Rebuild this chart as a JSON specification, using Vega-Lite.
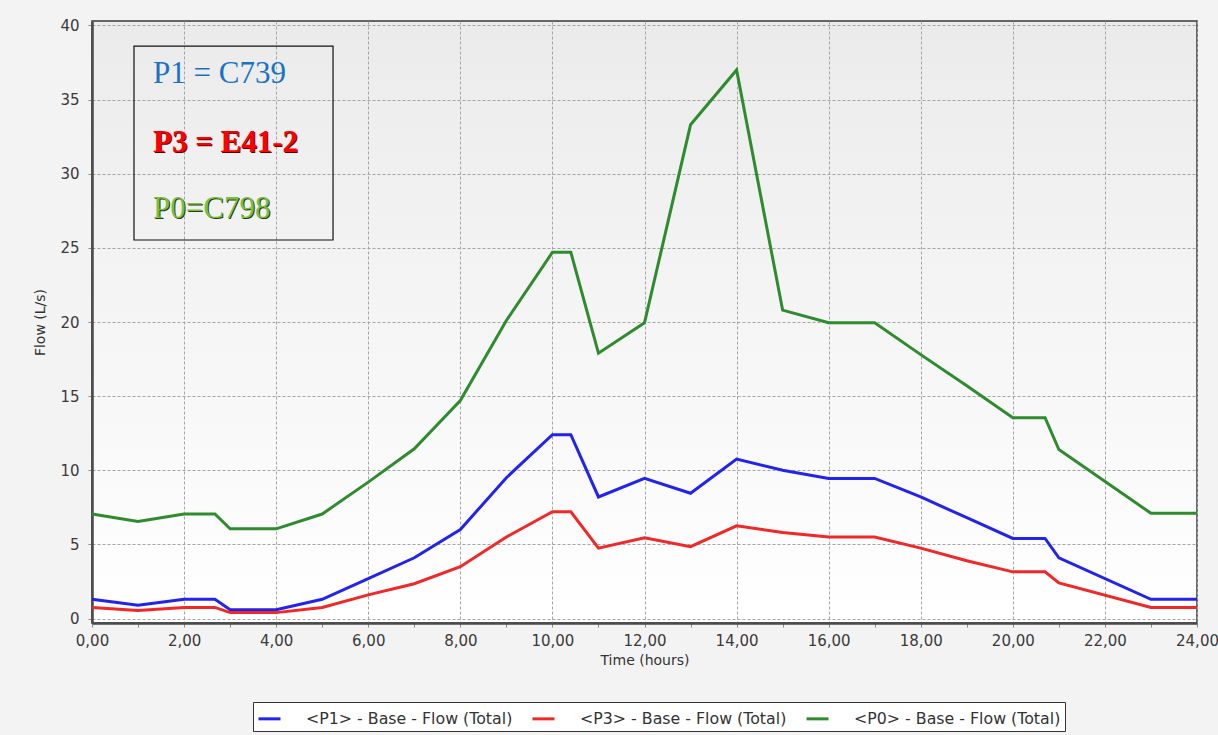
{
  "$schema": "https://vega.github.io/schema/vega-lite/v6.json",
  "width": 1105,
  "height": 602,
  "autosize": "none",
  "padding": {"left": 92, "top": 21, "right": 21, "bottom": 112},
  "background": "#f3f3f3",
  "config": {
    "view": {
      "fill": {"gradient": "linear", "x1": 0, "y1": 0, "x2": 0, "y2": 1,
        "stops": [{"offset": 0, "color": "#ebebeb"}, {"offset": 1, "color": "#ffffff"}]},
      "stroke": "#3a3a3a",
      "strokeWidth": 1.5
    },
    "font": "DejaVu Sans",
    "axis": {
      "domainColor": "#4a4a4a",
      "domainWidth": 2.5,
      "tickColor": "#8a8a8a",
      "tickSize": 4,
      "labelColor": "#3a3a3a",
      "labelFontSize": 15,
      "labelPadding": 6,
      "titleColor": "#333333",
      "titleFontSize": 14,
      "titleFontWeight": "normal",
      "gridColor": "#a5a5a5",
      "gridDash": [3, 2],
      "gridWidth": 1
    }
  },
  "datasets": {
    "flows": [
      {"t": 0, "flow": 1.3, "s": "P1"}, {"t": 1, "flow": 0.9, "s": "P1"}, {"t": 2, "flow": 1.3, "s": "P1"}, {"t": 2.67, "flow": 1.3, "s": "P1"},
      {"t": 3, "flow": 0.6, "s": "P1"}, {"t": 4, "flow": 0.6, "s": "P1"}, {"t": 5, "flow": 1.3, "s": "P1"}, {"t": 6, "flow": 2.7, "s": "P1"},
      {"t": 7, "flow": 4.1, "s": "P1"}, {"t": 8, "flow": 6.0, "s": "P1"}, {"t": 9, "flow": 9.5, "s": "P1"}, {"t": 10, "flow": 12.4, "s": "P1"},
      {"t": 10.4, "flow": 12.4, "s": "P1"}, {"t": 11, "flow": 8.2, "s": "P1"}, {"t": 12, "flow": 9.45, "s": "P1"}, {"t": 13, "flow": 8.45, "s": "P1"},
      {"t": 14, "flow": 10.75, "s": "P1"}, {"t": 15, "flow": 10.0, "s": "P1"}, {"t": 16, "flow": 9.45, "s": "P1"}, {"t": 17, "flow": 9.45, "s": "P1"},
      {"t": 18, "flow": 8.2, "s": "P1"}, {"t": 19, "flow": 6.8, "s": "P1"}, {"t": 20, "flow": 5.4, "s": "P1"}, {"t": 20.7, "flow": 5.4, "s": "P1"},
      {"t": 21, "flow": 4.1, "s": "P1"}, {"t": 23, "flow": 1.3, "s": "P1"}, {"t": 24, "flow": 1.3, "s": "P1"},
      {"t": 0, "flow": 0.75, "s": "P3"}, {"t": 1, "flow": 0.55, "s": "P3"}, {"t": 2, "flow": 0.75, "s": "P3"}, {"t": 2.67, "flow": 0.75, "s": "P3"},
      {"t": 3, "flow": 0.4, "s": "P3"}, {"t": 4, "flow": 0.4, "s": "P3"}, {"t": 5, "flow": 0.75, "s": "P3"}, {"t": 6, "flow": 1.6, "s": "P3"},
      {"t": 7, "flow": 2.35, "s": "P3"}, {"t": 8, "flow": 3.5, "s": "P3"}, {"t": 9, "flow": 5.5, "s": "P3"}, {"t": 10, "flow": 7.2, "s": "P3"},
      {"t": 10.4, "flow": 7.2, "s": "P3"}, {"t": 11, "flow": 4.75, "s": "P3"}, {"t": 12, "flow": 5.45, "s": "P3"}, {"t": 13, "flow": 4.85, "s": "P3"},
      {"t": 14, "flow": 6.25, "s": "P3"}, {"t": 15, "flow": 5.8, "s": "P3"}, {"t": 16, "flow": 5.5, "s": "P3"}, {"t": 17, "flow": 5.5, "s": "P3"},
      {"t": 18, "flow": 4.75, "s": "P3"}, {"t": 19, "flow": 3.9, "s": "P3"}, {"t": 20, "flow": 3.15, "s": "P3"}, {"t": 20.7, "flow": 3.15, "s": "P3"},
      {"t": 21, "flow": 2.4, "s": "P3"}, {"t": 23, "flow": 0.75, "s": "P3"}, {"t": 24, "flow": 0.75, "s": "P3"},
      {"t": 0, "flow": 7.05, "s": "P0"}, {"t": 1, "flow": 6.55, "s": "P0"}, {"t": 2, "flow": 7.05, "s": "P0"}, {"t": 2.67, "flow": 7.05, "s": "P0"},
      {"t": 3, "flow": 6.05, "s": "P0"}, {"t": 4, "flow": 6.05, "s": "P0"}, {"t": 5, "flow": 7.05, "s": "P0"}, {"t": 6, "flow": 9.2, "s": "P0"},
      {"t": 7, "flow": 11.45, "s": "P0"}, {"t": 8, "flow": 14.7, "s": "P0"}, {"t": 9, "flow": 20.1, "s": "P0"}, {"t": 10, "flow": 24.7, "s": "P0"},
      {"t": 10.4, "flow": 24.7, "s": "P0"}, {"t": 11, "flow": 17.9, "s": "P0"}, {"t": 12, "flow": 19.95, "s": "P0"}, {"t": 13, "flow": 33.3, "s": "P0"},
      {"t": 14, "flow": 37.0, "s": "P0"}, {"t": 15, "flow": 20.8, "s": "P0"}, {"t": 16, "flow": 19.95, "s": "P0"}, {"t": 17, "flow": 19.95, "s": "P0"},
      {"t": 18, "flow": 17.8, "s": "P0"}, {"t": 19, "flow": 15.7, "s": "P0"}, {"t": 20, "flow": 13.55, "s": "P0"}, {"t": 20.7, "flow": 13.55, "s": "P0"},
      {"t": 21, "flow": 11.4, "s": "P0"}, {"t": 23, "flow": 7.1, "s": "P0"}, {"t": 24, "flow": 7.1, "s": "P0"}
    ]
  },
  "layer": [
    {
      "data": {"name": "flows"},
      "mark": {"type": "line", "strokeWidth": 3},
      "encoding": {
        "x": {
          "field": "t", "type": "quantitative", "title": "Time (hours)",
          "scale": {"domain": [0, 24], "nice": false, "zero": false},
          "axis": {
            "values": [0, 0.5, 1, 1.5, 2, 2.5, 3, 3.5, 4, 4.5, 5, 5.5, 6, 6.5, 7, 7.5, 8, 8.5, 9, 9.5, 10, 10.5, 11, 11.5, 12, 12.5, 13, 13.5, 14, 14.5, 15, 15.5, 16, 16.5, 17, 17.5, 18, 18.5, 19, 19.5, 20, 20.5, 21, 21.5, 22, 22.5, 23, 23.5, 24],
            "labelExpr": "datum.value % 2 === 0 ? replace(format(datum.value, '.2f'), '.', ',') : ''",
            "gridOpacity": {"condition": {"test": "datum.value % 2 === 0", "value": 1}, "value": 0},
            "labelFlush": false,
            "labelOverlap": false,
            "titlePadding": 5
          }
        },
        "y": {
          "field": "flow", "type": "quantitative", "title": "Flow (L/s)",
          "scale": {"domain": [-0.3, 40.3], "nice": false, "zero": false},
          "axis": {
            "values": [0, 1.25, 2.5, 3.75, 5, 6.25, 7.5, 8.75, 10, 11.25, 12.5, 13.75, 15, 16.25, 17.5, 18.75, 20, 21.25, 22.5, 23.75, 25, 26.25, 27.5, 28.75, 30, 31.25, 32.5, 33.75, 35, 36.25, 37.5, 38.75, 40],
            "labelExpr": "datum.value % 5 === 0 ? format(datum.value, 'd') : ''",
            "gridOpacity": {"condition": {"test": "datum.value % 5 === 0", "value": 1}, "value": 0},
            "labelOverlap": false,
            "labelPadding": 9,
            "titlePadding": 12
          }
        },
        "color": {
          "field": "s", "type": "nominal",
          "scale": {"domain": ["P1", "P3", "P0"], "range": ["#2323ee", "#f02828", "#2e8b2e"]},
          "legend": {
            "title": null,
            "orient": "none",
            "direction": "horizontal",
            "legendX": 161,
            "legendY": 681,
            "labelExpr": "'<' + datum.label + '> - Base - Flow (Total)'",
            "labelFontSize": 15.8,
            "labelColor": "#333333",
            "labelOffset": 24,
            "labelLimit": 400,
            "symbolType": "stroke",
            "symbolSize": 484,
            "symbolStrokeWidth": 3,
            "columnPadding": 13,
            "padding": 4,
            "fillColor": "#ffffff",
            "strokeColor": "#333333"
          }
        },
        "order": {"field": "t", "type": "quantitative"}
      }
    },
    {
      "data": {"values": [{"box": "annotation"}]},
      "mark": {"type": "rect", "fill": null, "stroke": "#111111", "strokeWidth": 1.2},
      "encoding": {
        "x": {"datum": 0.912}, "x2": {"datum": 5.235},
        "y": {"datum": 38.61}, "y2": {"datum": 25.53}
      }
    },
    {
      "data": {"values": [{"label": "P1 = C739"}]},
      "mark": {"type": "text", "font": "Liberation Serif", "fontSize": 31, "color": "#1a72c2", "align": "left", "baseline": "alphabetic"},
      "encoding": {"x": {"datum": 1.325}, "y": {"datum": 36.12}, "text": {"field": "label"}}
    },
    {
      "data": {"values": [{"label": "P3 = E41-2"}]},
      "mark": {"type": "text", "font": "Liberation Serif", "fontSize": 31, "fontWeight": "bold", "color": "#5a0000", "align": "left", "baseline": "alphabetic", "dx": 1, "dy": 1},
      "encoding": {"x": {"datum": 1.325}, "y": {"datum": 31.47}, "text": {"field": "label"}}
    },
    {
      "data": {"values": [{"label": "P3 = E41-2"}]},
      "mark": {"type": "text", "font": "Liberation Serif", "fontSize": 31, "fontWeight": "bold", "color": "#ff0000", "align": "left", "baseline": "alphabetic"},
      "encoding": {"x": {"datum": 1.325}, "y": {"datum": 31.47}, "text": {"field": "label"}}
    },
    {
      "data": {"values": [{"label": "P0=C798"}]},
      "mark": {"type": "text", "font": "Liberation Serif", "fontSize": 31, "color": "#2a3a10", "align": "left", "baseline": "alphabetic", "dx": 1, "dy": 1},
      "encoding": {"x": {"datum": 1.325}, "y": {"datum": 27.01}, "text": {"field": "label"}}
    },
    {
      "data": {"values": [{"label": "P0=C798"}]},
      "mark": {"type": "text", "font": "Liberation Serif", "fontSize": 31, "color": "#78c040", "align": "left", "baseline": "alphabetic"},
      "encoding": {"x": {"datum": 1.325}, "y": {"datum": 27.01}, "text": {"field": "label"}}
    }
  ]
}
